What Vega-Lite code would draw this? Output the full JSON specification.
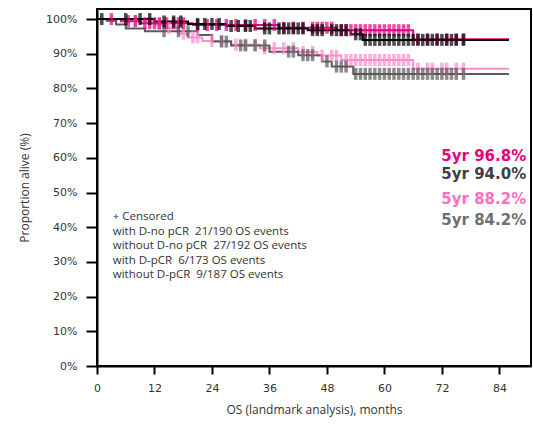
{
  "$schema": "https://vega.github.io/schema/vega-lite/v6.json",
  "width": 434,
  "height": 357,
  "autosize": {"type": "none"},
  "padding": {"left": 97, "top": 9, "right": 2, "bottom": 61},
  "background": "white",
  "config": {"view": {"stroke": "black", "strokeWidth": 2}},
  "datasets": {
    "curves": [
      {"group": "with D-no pCR", "month": 0, "pct": 100},
      {"group": "with D-no pCR", "month": 7, "pct": 99.5},
      {"group": "with D-no pCR", "month": 12, "pct": 98.4},
      {"group": "with D-no pCR", "month": 14, "pct": 97.4},
      {"group": "with D-no pCR", "month": 17, "pct": 95.8},
      {"group": "with D-no pCR", "month": 19, "pct": 94.7},
      {"group": "with D-no pCR", "month": 22, "pct": 93.7},
      {"group": "with D-no pCR", "month": 28, "pct": 92.6},
      {"group": "with D-no pCR", "month": 34, "pct": 91.6},
      {"group": "with D-no pCR", "month": 42, "pct": 90.5},
      {"group": "with D-no pCR", "month": 46, "pct": 89.5},
      {"group": "with D-no pCR", "month": 51, "pct": 88.2},
      {"group": "with D-no pCR", "month": 66, "pct": 85.7},
      {"group": "with D-no pCR", "month": 86, "pct": 85.7},
      {"group": "with D-pCR", "month": 0, "pct": 100},
      {"group": "with D-pCR", "month": 5, "pct": 99.4},
      {"group": "with D-pCR", "month": 9, "pct": 98.8},
      {"group": "with D-pCR", "month": 20, "pct": 98.3},
      {"group": "with D-pCR", "month": 38, "pct": 97.5},
      {"group": "with D-pCR", "month": 50, "pct": 96.8},
      {"group": "with D-pCR", "month": 66, "pct": 94.2},
      {"group": "with D-pCR", "month": 86, "pct": 94.2},
      {"group": "without D-no pCR", "month": 0, "pct": 100},
      {"group": "without D-no pCR", "month": 2, "pct": 99.5},
      {"group": "without D-no pCR", "month": 4, "pct": 98.4},
      {"group": "without D-no pCR", "month": 6, "pct": 97.3},
      {"group": "without D-no pCR", "month": 10, "pct": 96.5},
      {"group": "without D-no pCR", "month": 21, "pct": 95.4},
      {"group": "without D-no pCR", "month": 24, "pct": 93.5},
      {"group": "without D-no pCR", "month": 28, "pct": 92.4},
      {"group": "without D-no pCR", "month": 36, "pct": 90.6},
      {"group": "without D-no pCR", "month": 42, "pct": 89.6},
      {"group": "without D-no pCR", "month": 47, "pct": 87.8},
      {"group": "without D-no pCR", "month": 49, "pct": 86.3},
      {"group": "without D-no pCR", "month": 53.5, "pct": 84.2},
      {"group": "without D-no pCR", "month": 86, "pct": 84.2},
      {"group": "without D-pCR", "month": 0, "pct": 100},
      {"group": "without D-pCR", "month": 12, "pct": 99.3},
      {"group": "without D-pCR", "month": 19, "pct": 98.6},
      {"group": "without D-pCR", "month": 27, "pct": 98.0},
      {"group": "without D-pCR", "month": 33, "pct": 97.3},
      {"group": "without D-pCR", "month": 44, "pct": 96.8},
      {"group": "without D-pCR", "month": 53, "pct": 95.6},
      {"group": "without D-pCR", "month": 55.5, "pct": 94.0},
      {"group": "without D-pCR", "month": 86, "pct": 94.0}
    ],
    "censors": [
      {"group": "with D-no pCR", "month": 8, "pct": 99.5},
      {"group": "with D-no pCR", "month": 13, "pct": 98.4},
      {"group": "with D-no pCR", "month": 15, "pct": 97.4},
      {"group": "with D-no pCR", "month": 18, "pct": 95.8},
      {"group": "with D-no pCR", "month": 20, "pct": 94.7},
      {"group": "with D-no pCR", "month": 21, "pct": 94.7},
      {"group": "with D-no pCR", "month": 24, "pct": 93.7},
      {"group": "with D-no pCR", "month": 26, "pct": 93.7},
      {"group": "with D-no pCR", "month": 29, "pct": 92.6},
      {"group": "with D-no pCR", "month": 31, "pct": 92.6},
      {"group": "with D-no pCR", "month": 33, "pct": 92.6},
      {"group": "with D-no pCR", "month": 35, "pct": 91.6},
      {"group": "with D-no pCR", "month": 37, "pct": 91.6},
      {"group": "with D-no pCR", "month": 39, "pct": 91.6},
      {"group": "with D-no pCR", "month": 41, "pct": 91.6},
      {"group": "with D-no pCR", "month": 43, "pct": 90.5},
      {"group": "with D-no pCR", "month": 45, "pct": 90.5},
      {"group": "with D-no pCR", "month": 47, "pct": 89.5},
      {"group": "with D-no pCR", "month": 49, "pct": 89.5},
      {"group": "with D-no pCR", "month": 50, "pct": 89.5},
      {"group": "with D-no pCR", "month": 52, "pct": 88.2},
      {"group": "with D-no pCR", "month": 53, "pct": 88.2},
      {"group": "with D-no pCR", "month": 54, "pct": 88.2},
      {"group": "with D-no pCR", "month": 55, "pct": 88.2},
      {"group": "with D-no pCR", "month": 56, "pct": 88.2},
      {"group": "with D-no pCR", "month": 57, "pct": 88.2},
      {"group": "with D-no pCR", "month": 58, "pct": 88.2},
      {"group": "with D-no pCR", "month": 59, "pct": 88.2},
      {"group": "with D-no pCR", "month": 60, "pct": 88.2},
      {"group": "with D-no pCR", "month": 61, "pct": 88.2},
      {"group": "with D-no pCR", "month": 62, "pct": 88.2},
      {"group": "with D-no pCR", "month": 63, "pct": 88.2},
      {"group": "with D-no pCR", "month": 64, "pct": 88.2},
      {"group": "with D-no pCR", "month": 65, "pct": 88.2},
      {"group": "with D-no pCR", "month": 67, "pct": 85.7},
      {"group": "with D-no pCR", "month": 69, "pct": 85.7},
      {"group": "with D-no pCR", "month": 70, "pct": 85.7},
      {"group": "with D-no pCR", "month": 72, "pct": 85.7},
      {"group": "with D-no pCR", "month": 73, "pct": 85.7},
      {"group": "with D-no pCR", "month": 75, "pct": 85.7},
      {"group": "with D-no pCR", "month": 76.5, "pct": 85.7},
      {"group": "with D-pCR", "month": 3, "pct": 100},
      {"group": "with D-pCR", "month": 6.5, "pct": 99.4},
      {"group": "with D-pCR", "month": 8, "pct": 99.4},
      {"group": "with D-pCR", "month": 10, "pct": 98.8},
      {"group": "with D-pCR", "month": 11, "pct": 98.8},
      {"group": "with D-pCR", "month": 12, "pct": 98.8},
      {"group": "with D-pCR", "month": 13, "pct": 98.8},
      {"group": "with D-pCR", "month": 14.5, "pct": 98.8},
      {"group": "with D-pCR", "month": 16, "pct": 98.8},
      {"group": "with D-pCR", "month": 17, "pct": 98.8},
      {"group": "with D-pCR", "month": 18, "pct": 98.8},
      {"group": "with D-pCR", "month": 21, "pct": 98.3},
      {"group": "with D-pCR", "month": 23, "pct": 98.3},
      {"group": "with D-pCR", "month": 25, "pct": 98.3},
      {"group": "with D-pCR", "month": 27, "pct": 98.3},
      {"group": "with D-pCR", "month": 29, "pct": 98.3},
      {"group": "with D-pCR", "month": 31, "pct": 98.3},
      {"group": "with D-pCR", "month": 33, "pct": 98.3},
      {"group": "with D-pCR", "month": 35, "pct": 98.3},
      {"group": "with D-pCR", "month": 37, "pct": 98.3},
      {"group": "with D-pCR", "month": 39, "pct": 97.5},
      {"group": "with D-pCR", "month": 41, "pct": 97.5},
      {"group": "with D-pCR", "month": 43, "pct": 97.5},
      {"group": "with D-pCR", "month": 45, "pct": 97.5},
      {"group": "with D-pCR", "month": 46, "pct": 97.5},
      {"group": "with D-pCR", "month": 47, "pct": 97.5},
      {"group": "with D-pCR", "month": 48, "pct": 97.5},
      {"group": "with D-pCR", "month": 49, "pct": 97.5},
      {"group": "with D-pCR", "month": 51, "pct": 96.8},
      {"group": "with D-pCR", "month": 52, "pct": 96.8},
      {"group": "with D-pCR", "month": 53, "pct": 96.8},
      {"group": "with D-pCR", "month": 54, "pct": 96.8},
      {"group": "with D-pCR", "month": 55, "pct": 96.8},
      {"group": "with D-pCR", "month": 56, "pct": 96.8},
      {"group": "with D-pCR", "month": 57, "pct": 96.8},
      {"group": "with D-pCR", "month": 58, "pct": 96.8},
      {"group": "with D-pCR", "month": 59, "pct": 96.8},
      {"group": "with D-pCR", "month": 60, "pct": 96.8},
      {"group": "with D-pCR", "month": 61, "pct": 96.8},
      {"group": "with D-pCR", "month": 62, "pct": 96.8},
      {"group": "with D-pCR", "month": 63, "pct": 96.8},
      {"group": "with D-pCR", "month": 64, "pct": 96.8},
      {"group": "with D-pCR", "month": 65, "pct": 96.8},
      {"group": "with D-pCR", "month": 67, "pct": 94.2},
      {"group": "with D-pCR", "month": 69, "pct": 94.2},
      {"group": "with D-pCR", "month": 71, "pct": 94.2},
      {"group": "with D-pCR", "month": 73, "pct": 94.2},
      {"group": "with D-pCR", "month": 75, "pct": 94.2},
      {"group": "with D-pCR", "month": 76.5, "pct": 94.2},
      {"group": "without D-no pCR", "month": 14, "pct": 96.5},
      {"group": "without D-no pCR", "month": 17, "pct": 96.5},
      {"group": "without D-no pCR", "month": 19, "pct": 96.5},
      {"group": "without D-no pCR", "month": 26, "pct": 93.5},
      {"group": "without D-no pCR", "month": 27, "pct": 93.5},
      {"group": "without D-no pCR", "month": 30, "pct": 92.4},
      {"group": "without D-no pCR", "month": 31, "pct": 92.4},
      {"group": "without D-no pCR", "month": 33, "pct": 92.4},
      {"group": "without D-no pCR", "month": 35, "pct": 92.4},
      {"group": "without D-no pCR", "month": 40, "pct": 90.6},
      {"group": "without D-no pCR", "month": 41, "pct": 90.6},
      {"group": "without D-no pCR", "month": 43, "pct": 89.6},
      {"group": "without D-no pCR", "month": 44, "pct": 89.6},
      {"group": "without D-no pCR", "month": 45, "pct": 89.6},
      {"group": "without D-no pCR", "month": 48, "pct": 87.8},
      {"group": "without D-no pCR", "month": 50, "pct": 86.3},
      {"group": "without D-no pCR", "month": 51, "pct": 86.3},
      {"group": "without D-no pCR", "month": 52, "pct": 86.3},
      {"group": "without D-no pCR", "month": 54, "pct": 84.2},
      {"group": "without D-no pCR", "month": 55, "pct": 84.2},
      {"group": "without D-no pCR", "month": 56, "pct": 84.2},
      {"group": "without D-no pCR", "month": 57, "pct": 84.2},
      {"group": "without D-no pCR", "month": 58, "pct": 84.2},
      {"group": "without D-no pCR", "month": 59, "pct": 84.2},
      {"group": "without D-no pCR", "month": 60, "pct": 84.2},
      {"group": "without D-no pCR", "month": 61, "pct": 84.2},
      {"group": "without D-no pCR", "month": 62, "pct": 84.2},
      {"group": "without D-no pCR", "month": 63, "pct": 84.2},
      {"group": "without D-no pCR", "month": 64, "pct": 84.2},
      {"group": "without D-no pCR", "month": 65, "pct": 84.2},
      {"group": "without D-no pCR", "month": 66, "pct": 84.2},
      {"group": "without D-no pCR", "month": 67, "pct": 84.2},
      {"group": "without D-no pCR", "month": 68, "pct": 84.2},
      {"group": "without D-no pCR", "month": 69, "pct": 84.2},
      {"group": "without D-no pCR", "month": 70, "pct": 84.2},
      {"group": "without D-no pCR", "month": 71, "pct": 84.2},
      {"group": "without D-no pCR", "month": 72, "pct": 84.2},
      {"group": "without D-no pCR", "month": 73, "pct": 84.2},
      {"group": "without D-no pCR", "month": 74, "pct": 84.2},
      {"group": "without D-no pCR", "month": 75, "pct": 84.2},
      {"group": "without D-no pCR", "month": 76.5, "pct": 84.2},
      {"group": "without D-pCR", "month": 1, "pct": 100},
      {"group": "without D-pCR", "month": 6, "pct": 100},
      {"group": "without D-pCR", "month": 9, "pct": 100},
      {"group": "without D-pCR", "month": 11, "pct": 100},
      {"group": "without D-pCR", "month": 14, "pct": 99.3},
      {"group": "without D-pCR", "month": 16, "pct": 99.3},
      {"group": "without D-pCR", "month": 17.5, "pct": 99.3},
      {"group": "without D-pCR", "month": 21, "pct": 98.6},
      {"group": "without D-pCR", "month": 22.5, "pct": 98.6},
      {"group": "without D-pCR", "month": 24, "pct": 98.6},
      {"group": "without D-pCR", "month": 25.5, "pct": 98.6},
      {"group": "without D-pCR", "month": 28, "pct": 98.0},
      {"group": "without D-pCR", "month": 29.5, "pct": 98.0},
      {"group": "without D-pCR", "month": 31, "pct": 98.0},
      {"group": "without D-pCR", "month": 32, "pct": 98.0},
      {"group": "without D-pCR", "month": 35, "pct": 97.3},
      {"group": "without D-pCR", "month": 36, "pct": 97.3},
      {"group": "without D-pCR", "month": 38, "pct": 97.3},
      {"group": "without D-pCR", "month": 39, "pct": 97.3},
      {"group": "without D-pCR", "month": 40, "pct": 97.3},
      {"group": "without D-pCR", "month": 41, "pct": 97.3},
      {"group": "without D-pCR", "month": 42, "pct": 97.3},
      {"group": "without D-pCR", "month": 43, "pct": 97.3},
      {"group": "without D-pCR", "month": 45, "pct": 96.8},
      {"group": "without D-pCR", "month": 46, "pct": 96.8},
      {"group": "without D-pCR", "month": 47, "pct": 96.8},
      {"group": "without D-pCR", "month": 49, "pct": 96.8},
      {"group": "without D-pCR", "month": 50, "pct": 96.8},
      {"group": "without D-pCR", "month": 51, "pct": 96.8},
      {"group": "without D-pCR", "month": 52, "pct": 96.8},
      {"group": "without D-pCR", "month": 54, "pct": 95.6},
      {"group": "without D-pCR", "month": 55, "pct": 95.6},
      {"group": "without D-pCR", "month": 56, "pct": 94.0},
      {"group": "without D-pCR", "month": 57, "pct": 94.0},
      {"group": "without D-pCR", "month": 58, "pct": 94.0},
      {"group": "without D-pCR", "month": 59, "pct": 94.0},
      {"group": "without D-pCR", "month": 60, "pct": 94.0},
      {"group": "without D-pCR", "month": 61, "pct": 94.0},
      {"group": "without D-pCR", "month": 62, "pct": 94.0},
      {"group": "without D-pCR", "month": 63, "pct": 94.0},
      {"group": "without D-pCR", "month": 64, "pct": 94.0},
      {"group": "without D-pCR", "month": 65, "pct": 94.0},
      {"group": "without D-pCR", "month": 66, "pct": 94.0},
      {"group": "without D-pCR", "month": 67, "pct": 94.0},
      {"group": "without D-pCR", "month": 68, "pct": 94.0},
      {"group": "without D-pCR", "month": 69, "pct": 94.0},
      {"group": "without D-pCR", "month": 70, "pct": 94.0},
      {"group": "without D-pCR", "month": 71, "pct": 94.0},
      {"group": "without D-pCR", "month": 72, "pct": 94.0},
      {"group": "without D-pCR", "month": 73, "pct": 94.0},
      {"group": "without D-pCR", "month": 74, "pct": 94.0},
      {"group": "without D-pCR", "month": 75, "pct": 94.0},
      {"group": "without D-pCR", "month": 76.5, "pct": 94.0}
    ],
    "notes": [
      {"label": "+ Censored", "month": 3.3, "pct": 42.9},
      {"label": "with D-no pCR\u00a0 21/190 OS events", "month": 3.3, "pct": 38.7},
      {"label": "without D-no pCR\u00a0 27/192 OS events", "month": 3.3, "pct": 34.5},
      {"label": "with D-pCR\u00a0 6/173 OS events", "month": 3.3, "pct": 30.3},
      {"label": "without D-pCR\u00a0 9/187 OS events", "month": 3.3, "pct": 26.1}
    ],
    "fiveyr": [
      {"group": "with D-pCR", "label": "5yr 96.8%", "month": 89.6, "pct": 60.4},
      {"group": "without D-pCR", "label": "5yr 94.0%", "month": 89.6, "pct": 55.2},
      {"group": "with D-no pCR", "label": "5yr 88.2%", "month": 89.6, "pct": 48.0},
      {"group": "without D-no pCR", "label": "5yr 84.2%", "month": 89.6, "pct": 42.1}
    ]
  },
  "encoding": {
    "x": {
      "field": "month", "type": "quantitative",
      "scale": {"domain": [0, 90.6], "nice": false, "zero": false},
      "axis": {
        "values": [0, 12, 24, 36, 48, 60, 72, 84],
        "title": "OS (landmark analysis), months",
        "grid": false, "domainColor": "black", "domainWidth": 2,
        "tickColor": "black", "tickWidth": 2, "tickSize": 8,
        "labelFont": "DejaVu Sans", "labelFontSize": 11, "labelColor": "#333333",
        "labelPadding": 8, "labelFlush": false,
        "titleFont": "Open Sans", "titleFontSize": 12, "titleFontWeight": "normal",
        "titleColor": "#333333", "titlePadding": 11
      }
    },
    "y": {
      "field": "pct", "type": "quantitative",
      "scale": {"domain": [0, 102.9], "nice": false},
      "axis": {
        "values": [0, 10, 20, 30, 40, 50, 60, 70, 80, 90, 100],
        "labelExpr": "datum.value + '%'",
        "title": "Proportion alive (%)",
        "grid": false, "domainColor": "black", "domainWidth": 2,
        "tickColor": "black", "tickWidth": 2, "tickSize": 11,
        "labelFont": "DejaVu Sans", "labelFontSize": 11, "labelColor": "#333333",
        "labelPadding": 9,
        "titleFont": "Open Sans", "titleFontSize": 12, "titleFontWeight": "normal",
        "titleColor": "#333333", "titlePadding": 14
      }
    }
  },
  "layer": [
    {
      "data": {"name": "curves"},
      "mark": {"type": "line", "interpolate": "step-after", "strokeWidth": 2},
      "encoding": {
        "color": {
          "field": "group", "type": "nominal", "legend": null,
          "scale": {
            "domain": ["with D-no pCR", "with D-pCR", "without D-no pCR", "without D-pCR"],
            "range": ["#FF8CCB", "#E6007E", "#5A5A5A", "#000000"]
          }
        }
      }
    },
    {
      "data": {"name": "censors"},
      "mark": {"type": "tick", "orient": "vertical", "size": 12, "thickness": 3.5},
      "encoding": {
        "color": {
          "field": "group", "type": "nominal", "legend": null,
          "scale": {
            "domain": ["with D-no pCR", "with D-pCR", "without D-no pCR", "without D-pCR"],
            "range": ["#FF8CCB", "#E6007E", "#5A5A5A", "#000000"]
          }
        }
      }
    },
    {
      "data": {"name": "notes"},
      "mark": {"type": "text", "align": "left", "baseline": "middle", "font": "Open Sans", "fontSize": 11.5, "color": "#333333"},
      "encoding": {"text": {"field": "label"}}
    },
    {
      "data": {"name": "fiveyr"},
      "mark": {"type": "text", "align": "right", "baseline": "middle", "font": "DejaVu Sans", "fontSize": 15, "fontWeight": "bold"},
      "encoding": {
        "text": {"field": "label"},
        "color": {
          "field": "group", "type": "nominal", "legend": null,
          "scale": {
            "domain": ["with D-pCR", "without D-pCR", "with D-no pCR", "without D-no pCR"],
            "range": ["#E6007E", "#404040", "#FF6EC0", "#707070"]
          }
        }
      }
    }
  ],
  "resolve": {"scale": {"color": "independent"}}
}
